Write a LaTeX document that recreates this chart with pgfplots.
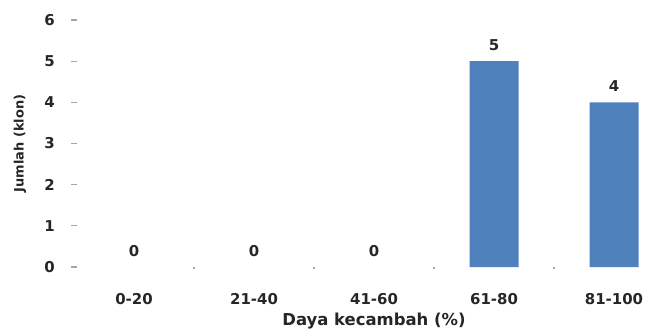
\documentclass[border=0pt]{standalone}
\usepackage{pgfplots}
\pgfplotsset{compat=1.18}
\usepackage{fontspec}
\setmainfont{DejaVu Sans}
\definecolor{barblue}{HTML}{4F81BD}
\definecolor{txt}{HTML}{262626}
\definecolor{tickgray}{HTML}{A6A6A6}
\begin{document}
\begin{tikzpicture}
% page frame: the plot area runs on past the right edge
\useasboundingbox (-74bp,-67bp) rectangle (575bp,267bp);
\begin{axis}[
  scale only axis,
  width=600bp, height=247bp,
  xmin=-0.5, xmax=4.5, ymin=0, ymax=6,
  axis line style={draw=none},
  xtick={0,1,2,3,4},
  xticklabels={0-20,21-40,41-60,61-80,81-100},
  major x tick style={draw=none},
  minor xtick={0.5,1.5,2.5,3.5},
  minor x tick style={tickgray, line width=1.6bp},
  minor tick length=1.6bp,
  ytick={0,1,...,6},
  y tick style={tickgray, line width=1.2bp},
  major tick length=5bp,
  tick align=center,
  xtick pos=bottom, ytick pos=left,
  /pgf/number format/assume math mode=true,
  tick label style={font=\fontsize{15}{17}\selectfont\bfseries, text=txt},
  xticklabel style={anchor=center, yshift=-27bp},
  yticklabel style={anchor=center, xshift=-22bp},
  xlabel={Daya kecambah (\%)},
  ylabel={Jumlah (klon)},
  every axis x label/.style={at={(axis description cs:0.5,-0.2186)}, anchor=center,
    font=\fontsize{16.5}{19}\selectfont\bfseries, text=txt},
  every axis y label/.style={at={(axis description cs:-0.09,0.5)}, rotate=90, anchor=center,
    font=\fontsize{13}{15}\selectfont\bfseries, text=txt},
  ybar, bar width=49bp, bar shift=0pt,
  nodes near coords,
  every node near coord/.append style={font=\fontsize{15}{17}\selectfont\bfseries,
    text=txt, anchor=center, yshift=16bp},
]
% empty classes: only their value labels are shown
\addplot[fill=none, draw=none] coordinates {(0,0) (1,0) (2,0)};
\addplot[fill=barblue, draw=none] coordinates {(3,5) (4,4)};
\end{axis}
\end{tikzpicture}
\end{document}
